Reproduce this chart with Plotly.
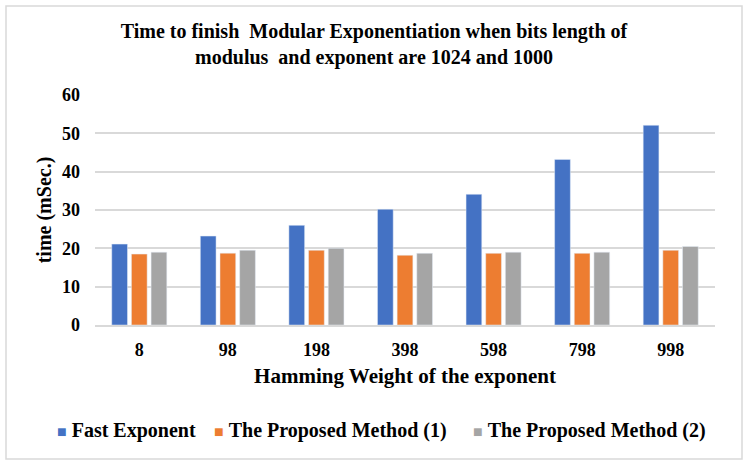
import plotly.graph_objects as go

categories = ["8", "98", "198", "398", "598", "798", "998"]
fast_exponent = [21.1, 23.2, 26.0, 30.2, 34.1, 43.2, 52.1]
proposed_1 = [18.5, 18.75, 19.5, 18.2, 18.7, 18.7, 19.5]
proposed_2 = [19.0, 19.5, 20.0, 18.7, 19.0, 19.0, 20.5]
y_ticks = [0, 10, 20, 30, 40, 50, 60]
series_names = ["Fast Exponent", "The Proposed Method (1)", "The Proposed Method (2)"]
colors = ["#4472C4", "#ED7D31", "#A5A5A5"]

FONT = "Liberation Serif"
W, H = 749, 469
ml, mr, mt, mb = 95, 34, 95, 144

fig = go.Figure()
for name, vals, c in zip(series_names, [fast_exponent, proposed_1, proposed_2], colors):
    fig.add_bar(x=categories, y=vals, name=name, marker_color=c, showlegend=False)

pw = W - ml - mr
ph = H - mt - mb
def px_x(x):
    return (x - ml) / pw
def px_y(y):
    return (H - mb - y) / ph

# outer border
fig.add_shape(type="rect", xref="paper", yref="paper", x0=px_x(6), x1=px_x(742),
              y0=px_y(459), y1=px_y(6),
              line=dict(color="#D9D9D9", width=1.5), fillcolor="rgba(0,0,0,0)", layer="below")

# legend built as annotations
leg_x = [55, 212, 471]
for name, c, lx in zip(series_names, colors, leg_x):
    fig.add_annotation(xref="paper", yref="paper", x=px_x(lx), y=px_y(430),
                       xanchor="left", yanchor="middle", showarrow=False,
                       text=f"<span style='color:{c}; font-size:16px'>■</span> <b>{name}</b>",
                       font=dict(family=FONT, size=20, color="black"))

fig.update_layout(
    width=W, height=H,
    margin=dict(l=ml, r=mr, t=mt, b=mb, autoexpand=False),
    paper_bgcolor="white", plot_bgcolor="white",
    font=dict(family=FONT, color="black", size=18),
    title=dict(
        text="<b>Time to finish  Modular Exponentiation when bits length of<br>modulus  and exponent are 1024 and 1000</b>",
        x=374 / W, xanchor="center", xref="container", yref="container", y=1 - 45 / H, yanchor="middle",
        font=dict(family=FONT, size=20, color="black"),
    ),
    barmode="group", bargap=0.334, bargroupgap=0.2,
    showlegend=False,
    xaxis=dict(
        type="category", showgrid=False, zeroline=False, automargin=False,
        showline=True, linecolor="#D9D9D9", linewidth=1.5,
        ticks="", tickfont=dict(family=FONT, size=18, color="black", weight="bold"),
        ticklabelstandoff=8,
        title=dict(text="<b>Hamming Weight of the exponent</b>", standoff=9,
                   font=dict(family=FONT, size=21, color="black")),
    ),
    yaxis=dict(
        range=[0, 60], tickvals=y_ticks, showgrid=True, gridcolor="#D9D9D9", gridwidth=1.5,
        zeroline=False, showline=False, ticks="", automargin=False,
        tickfont=dict(family=FONT, size=18, color="black", weight="bold"),
        ticklabelstandoff=14,
        title=dict(text="<b>time (mSec.)</b>", standoff=5,
                   font=dict(family=FONT, size=20, color="black")),
    ),
)
fig.layout.title.y = 1 - 38 / H

fig.write_html("out.html", config={"displayModeBar": False},
               post_script="document.body.style.margin='0';")
